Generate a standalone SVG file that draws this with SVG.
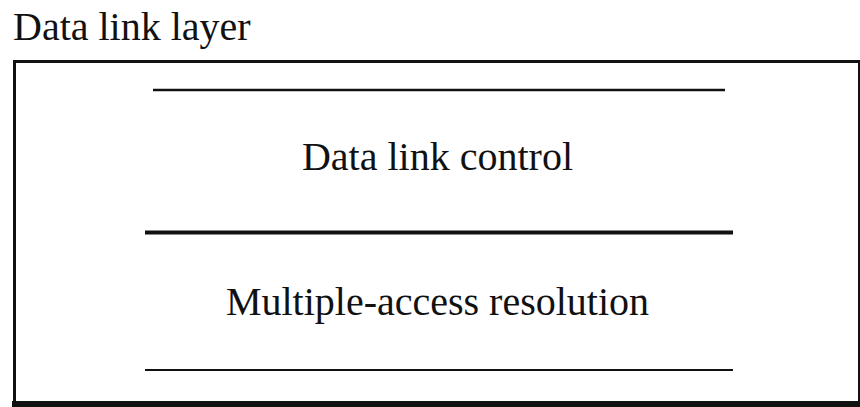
<svg xmlns="http://www.w3.org/2000/svg" width="860" height="407" viewBox="0 0 860 407">
  <style>
    .label { font-family: "Liberation Serif", "Times New Roman", serif; font-size: 40px; fill: #111; }
    .rule { stroke: #111; stroke-linecap: butt; }
  </style>
  <rect x="0" y="0" width="860" height="407" fill="#fff"/>

  <g id="layer">
    <text class="label" x="13" y="40">Data link layer</text>
    <!-- outer frame: thin top/sides, heavy bottom -->
    <line class="rule" x1="13" y1="61.5" x2="860" y2="61.5" stroke-width="3"/>
    <line class="rule" x1="14.5" y1="60" x2="14.5" y2="403" stroke-width="3"/>
    <line class="rule" x1="859" y1="60" x2="859" y2="403" stroke-width="2"/>
    <line class="rule" x1="12" y1="404" x2="860" y2="404" stroke-width="6"/>
  </g>

  <g id="sublayer-control">
    <line class="rule" x1="153" y1="90" x2="725" y2="90" stroke-width="2.5"/>
    <text class="label" x="437.5" y="170" text-anchor="middle">Data link control</text>
  </g>

  <g id="sublayer-mac">
    <line class="rule" x1="145" y1="232.5" x2="733" y2="232.5" stroke-width="4"/>
    <text class="label" x="437.5" y="315" text-anchor="middle">Multiple-access resolution</text>
    <line class="rule" x1="145" y1="370" x2="733" y2="370" stroke-width="2"/>
  </g>
</svg>
